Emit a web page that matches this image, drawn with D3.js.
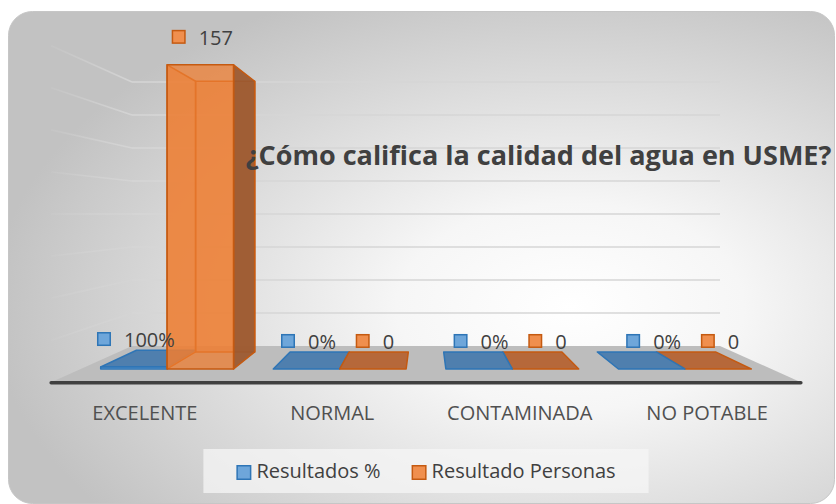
<!DOCTYPE html>
<html>
<head>
<meta charset="utf-8">
<script src="https://cdn.jsdelivr.net/npm/d3@7"></script>
<style>
  html, body { margin: 0; padding: 0; background: #ffffff; }
  svg { display: block; }
  text { font-family: "Open Sans", "DejaVu Sans", sans-serif; }
</style>
</head>
<body>
<svg id="chart" width="836" height="504"></svg>
<script>
// Encuesta: ¿Cómo califica la calidad del agua en USME?
const categories = ["EXCELENTE", "NORMAL", "CONTAMINADA", "NO POTABLE"];
const seriesNames = ["Resultados %", "Resultado Personas"];
const porcentajes = [1, 0, 0, 0];          // proporción de respuestas
const personas = [157, 0, 0, 0];           // número de personas
const yTicks = [20, 40, 60, 80, 100, 120, 140, 160];
const titleText = "¿Cómo califica la calidad del agua en USME?";

const W = 836, H = 504;
const svg = d3.select("#chart");
const defs = svg.append("defs");

// ---- chart area background ----
const bg = defs.append("radialGradient").attr("id", "bgGrad")
  .attr("cx", 0.68).attr("cy", 0.6).attr("r", 0.7)
  .attr("fx", 0.68).attr("fy", 0.6);
bg.append("stop").attr("offset", 0).attr("stop-color", "#ffffff");
bg.append("stop").attr("offset", 0.3).attr("stop-color", "#f6f6f6");
bg.append("stop").attr("offset", 1).attr("stop-color", "#c2c2c2");

svg.append("rect")
  .attr("x", 8.5).attr("y", 11.5).attr("width", 826).attr("height", 492)
  .attr("rx", 24).attr("ry", 24)
  .attr("fill", "url(#bgGrad)").attr("stroke", "#c6c6c6").attr("stroke-width", 1);

// ---- 3D scene: back wall coordinates + simple perspective ----
const x = d3.scaleBand().domain(categories).range([132, 720])
  .paddingInner(0.23).paddingOuter(0.115);
const xs = d3.scaleBand().domain(seriesNames).range([0, x.bandwidth()]);
const y = d3.scaleLinear().domain([0, 160]).range([346, 82]);

const VP = [(132 + 720) / 2, 214];          // vanishing point / horizon
const depth = { wall: 1, barBack: 1.045, barFront: 1.174, floorFront: 1.275 };
const proj = (X, Y, s) => [VP[0] + (X - VP[0]) * s, VP[1] + (Y - VP[1]) * s];
const poly = pts => "M" + pts.map(p => p[0].toFixed(2) + "," + p[1].toFixed(2)).join("L") + "Z";

const [xMin, xMax] = x.range();

// side wall gridlines fade toward the front
const wallGrad = defs.append("linearGradient").attr("id", "wallGrad")
  .attr("gradientUnits", "userSpaceOnUse")
  .attr("x1", proj(xMin, 0, depth.floorFront)[0]).attr("x2", xMin)
  .attr("y1", 0).attr("y2", 0);
wallGrad.append("stop").attr("offset", 0).attr("stop-color", "#d4d4d4").attr("stop-opacity", 0.15);
wallGrad.append("stop").attr("offset", 1).attr("stop-color", "#d4d4d4").attr("stop-opacity", 1);

const grid = svg.append("g");
yTicks.forEach(t => {
  const a = proj(xMin, y(t), depth.floorFront), b = proj(xMin, y(t), depth.wall);
  grid.append("line")
    .attr("x1", a[0]).attr("y1", a[1]).attr("x2", b[0]).attr("y2", b[1])
    .attr("stroke", "url(#wallGrad)").attr("stroke-width", 1.6);
  grid.append("line")
    .attr("x1", xMin).attr("y1", y(t)).attr("x2", xMax).attr("y2", y(t))
    .attr("stroke", "#d6d6d6").attr("stroke-width", 1.6);
});

// floor
const floorPts = [
  proj(xMin, y(0), depth.wall), proj(xMax, y(0), depth.wall),
  proj(xMax, y(0), depth.floorFront), proj(xMin, y(0), depth.floorFront)
];
svg.append("path").attr("d", poly(floorPts)).attr("fill", "#bdbdbd");
svg.append("line")
  .attr("x1", floorPts[3][0]).attr("y1", floorPts[3][1] + 0.5)
  .attr("x2", floorPts[2][0]).attr("y2", floorPts[2][1] + 0.5)
  .attr("stroke", "#404040").attr("stroke-width", 3.5).attr("stroke-linecap", "round");

// ---- bars ----
const palette = {
  "Resultados %": { base: "#5b9bd5", stroke: "#2e75b6", side: "#41719c", top: "#4f7fae", marker: "#6ea6da" },
  "Resultado Personas": { base: "#ed7d31", stroke: "#c55a11", side: "#9c5a30", top: "#b6683a", marker: "#f08f4e" }
};
const seriesValues = { "Resultados %": porcentajes, "Resultado Personas": personas };
const fmt = { "Resultados %": d3.format(".0%"), "Resultado Personas": d3.format("d") };

const bars = [];
categories.forEach((c, i) => {
  seriesNames.forEach(s => {
    const X0 = x(c) + xs(s), X1 = X0 + xs.bandwidth();
    bars.push({ c, s, v: seriesValues[s][i], X0, X1 });
  });
});
// paint the bars farthest from the vanishing point first
bars.sort((a, b) => Math.abs((b.X0 + b.X1) / 2 - VP[0]) - Math.abs((a.X0 + a.X1) / 2 - VP[0]));

const barG = svg.append("g");
bars.forEach(d => {
  const col = palette[d.s];
  const sf = depth.barFront, sb = depth.barBack;
  const Yb = y(0), Yt = y(d.v);
  const fbl = proj(d.X0, Yb, sf), fbr = proj(d.X1, Yb, sf), ftl = proj(d.X0, Yt, sf), ftr = proj(d.X1, Yt, sf);
  const bbl = proj(d.X0, Yb, sb), bbr = proj(d.X1, Yb, sb), btl = proj(d.X0, Yt, sb), btr = proj(d.X1, Yt, sb);
  const leftOfVP = (d.X0 + d.X1) / 2 < VP[0];
  const g = barG.append("g").attr("stroke", col.stroke).attr("stroke-width", 1.5).attr("stroke-linejoin", "round");
  const face = (pts, fill, op) => g.append("path").attr("d", poly(pts)).attr("fill", fill).attr("fill-opacity", op);

  const tall = Math.abs(ftl[1] - fbl[1]) > 3;
  if (tall) {
    face([btl, btr, bbr, bbl], col.base, 0.5);                       // back
    if (leftOfVP) face([ftl, btl, bbl, fbl], col.base, 0.5);          // far side
    else face([ftr, btr, bbr, fbr], col.base, 0.5);
    if (leftOfVP) face([ftr, btr, bbr, fbr], col.side, 0.95);         // near side
    else face([ftl, btl, bbl, fbl], col.side, 0.95);
    face([ftl, ftr, fbr, fbl], col.base, 0.75);                       // front
  } else {
    face([ftl, ftr, btr, btl], col.top, 1);                          // top
    if (Math.abs(ftl[1] - fbl[1]) > 0.5) face([ftl, ftr, fbr, fbl], col.base, 0.8);
  }
  d.labelX = ftl[0] + (ftr[0] - ftl[0]) / 2;
  d.labelY = ftl[1] - 20;
});

// ---- data labels (legend key + value) ----
const lblG = svg.append("g");
bars.forEach(d => {
  const col = palette[d.s];
  const g = lblG.append("g");
  const t = g.append("text").text(fmt[d.s](d.v))
    .attr("font-size", 20).attr("fill", "#404040");
  const tw = t.node().getComputedTextLength();
  const key = 14, gap = 13;
  const left = d.labelX - (key + gap + tw) / 2 + 2;
  g.append("rect").attr("x", left + 0.75).attr("y", d.labelY - 14.25)
    .attr("width", key - 1.5).attr("height", key - 1.5)
    .attr("fill", col.marker).attr("stroke", col.stroke).attr("stroke-width", 1.5);
  t.attr("x", left + key + gap).attr("y", d.labelY);
});

// ---- category labels ----
const catG = svg.append("g");
categories.forEach(c => {
  const p = proj(x(c) + x.bandwidth() / 2, y(0), depth.floorFront);
  catG.append("text").text(c)
    .attr("x", p[0]).attr("y", 420).attr("text-anchor", "middle")
    .attr("font-size", 20).attr("fill", "#505050");
});

// ---- title ----
svg.append("text").text(titleText)
  .attr("x", 538.5).attr("y", 165).attr("text-anchor", "middle")
  .attr("font-size", 27).attr("font-weight", "bold").attr("fill", "#404040");

// ---- legend ----
const legG = svg.append("g");
const legBox = legG.append("rect").attr("fill", "#f6f6f6").attr("fill-opacity", 0.75);
let cursor = 0;
const items = seriesNames.map(s => {
  const g = legG.append("g");
  g.append("rect").attr("x", cursor + 0.75).attr("y", 465.75).attr("width", 13.5).attr("height", 13.5)
    .attr("fill", palette[s].marker).attr("stroke", palette[s].stroke).attr("stroke-width", 1.5);
  const t = g.append("text").text(s).attr("x", cursor + 20).attr("y", 478)
    .attr("font-size", 20).attr("fill", "#404040");
  const w = 20 + t.node().getComputedTextLength();
  cursor += w + 31;
  return w;
});
const legW = cursor - 31;
const legLeft = VP[0] - legW / 2;
legG.selectAll(":scope > g").attr("transform", `translate(${legLeft},0)`);
legBox.attr("x", legLeft - 33).attr("y", 449).attr("width", legW + 66).attr("height", 44);
</script>
</body>
</html>
